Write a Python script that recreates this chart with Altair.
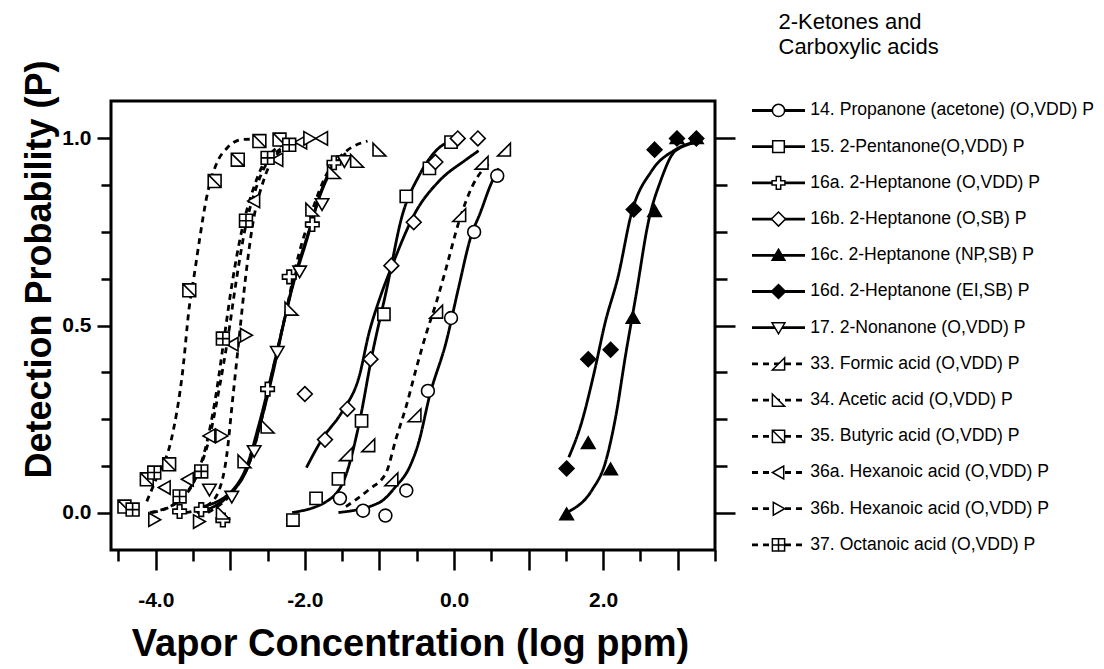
import altair as alt
import pandas as pd

FONT = "Liberation Sans, Arial, Helvetica, sans-serif"

SERIES = [
    "14. Propanone (acetone) (O,VDD) P",
    "15. 2-Pentanone(O,VDD) P",
    "16a. 2-Heptanone (O,VDD) P",
    "16b. 2-Heptanone (O,SB) P",
    "16c. 2-Heptanone (NP,SB) P",
    "16d. 2-Heptanone (EI,SB) P",
    "17. 2-Nonanone (O,VDD) P",
    "33. Formic acid (O,VDD) P",
    "34. Acetic acid (O,VDD) P",
    "35. Butyric acid (O,VDD) P",
    "36a. Hexanoic acid (O,VDD) P",
    "36b. Hexanoic acid (O,VDD) P",
    "37. Octanoic acid (O,VDD) P",
]
TITLE_TEXT = ["2-Ketones and\nCarboxylic acids"]

# ---- measured points ----
P14_X = [-1.53, -1.22, -0.92, -0.64, -0.35, -0.04, 0.27, 0.58]
P14_Y = [0.038, 0.005, -0.008, 0.059, 0.325, 0.52, 0.75, 0.90]
P15_X = [-2.16, -1.85, -1.55, -1.24, -0.94, -0.64, -0.33, -0.04]
P15_Y = [-0.02, 0.038, 0.09, 0.245, 0.53, 0.845, 0.92, 0.99]
P16A_X = [-3.68, -3.39, -3.10, -2.50, -2.21, -1.90, -1.61]
P16A_Y = [0.003, 0.008, -0.02, 0.33, 0.63, 0.77, 0.935]
P16B_X = [-2.00, -1.73, -1.43, -1.12, -0.84, -0.54, -0.25, 0.05, 0.32]
P16B_Y = [0.317, 0.195, 0.277, 0.41, 0.66, 0.776, 0.937, 1.0, 1.0]
P16C_X = [1.51, 1.80, 2.10, 2.40, 2.69, 2.99, 3.25]
P16C_Y = [-0.005, 0.185, 0.115, 0.52, 0.805, 1.0, 1.0]
P16D_X = [1.51, 1.80, 2.10, 2.41, 2.69, 2.99, 3.25]
P16D_Y = [0.118, 0.41, 0.435, 0.81, 0.97, 1.0, 1.0]
P17_X = [-3.28, -2.98, -2.68, -2.37, -2.07, -1.77, -1.47]
P17_Y = [0.062, 0.043, 0.165, 0.43, 0.645, 0.825, 0.94]
P33_X = [-1.45, -1.15, -0.84, -0.53, -0.24, 0.07, 0.37, 0.67]
P33_Y = [0.156, 0.18, 0.089, 0.26, 0.537, 0.795, 0.935, 0.97]
P34_X = [-3.10, -2.81, -2.50, -2.18, -1.90, -1.61, -1.30, -1.00]
P34_Y = [0.0, 0.137, 0.23, 0.545, 0.81, 0.91, 0.94, 0.97]
P35_X = [-4.42, -4.12, -3.82, -3.55, -3.21, -2.90, -2.61, -2.34]
P35_Y = [0.016, 0.089, 0.129, 0.594, 0.886, 0.943, 0.993, 0.997]
P36A_X = [-3.88, -3.57, -3.28, -2.97, -2.68, -2.37, -2.05, -1.77]
P36A_Y = [0.067, 0.089, 0.205, 0.45, 0.833, 0.943, 0.99, 1.0]
P36B_X = [-4.02, -3.42, -3.12, -2.79, -1.94]
P36B_Y = [-0.019, -0.024, 0.205, 0.474, 1.0]
P37_X = [-4.31, -4.02, -3.68, -3.39, -3.10, -2.79, -2.50, -2.21]
P37_Y = [0.008, 0.107, 0.043, 0.11, 0.465, 0.78, 0.948, 0.983]

# ---- fitted curves ----
C14_X = [-1.55, -1.0, -0.78, -0.6, -0.47, -0.33, -0.1, 0.06, 0.23, 0.35, 0.5, 0.6]
C14_Y = [0.0, 0.027, 0.07, 0.12, 0.19, 0.31, 0.46, 0.6, 0.74, 0.8, 0.88, 0.92]
C15_X = [-2.17, -1.67, -1.45, -1.27, -1.1, -0.9, -0.7, -0.47, -0.2, 0.0]
C15_Y = [0.0, 0.035, 0.1, 0.24, 0.42, 0.6, 0.79, 0.9, 0.975, 0.995]
C16A_X = [-3.45, -3.0, -2.75, -2.58, -2.42, -2.27, -2.15, -1.95, -1.78, -1.6]
C16A_Y = [0.0, 0.05, 0.13, 0.25, 0.38, 0.52, 0.62, 0.75, 0.86, 0.94]
C16B_X = [-1.98, -1.77, -1.5, -1.27, -1.14, -1.0, -0.83, -0.51, -0.2, 0.16, 0.33]
C16B_Y = [0.12, 0.196, 0.27, 0.365, 0.48, 0.57, 0.66, 0.805, 0.886, 0.943, 0.967]
C16C_X = [1.54, 1.85, 2.03, 2.17, 2.3, 2.44, 2.61, 2.77, 2.97, 3.28]
C16C_Y = [0.003, 0.06, 0.134, 0.258, 0.42, 0.58, 0.78, 0.886, 0.967, 0.99]
C16D_X = [1.54, 1.71, 1.87, 2.03, 2.2, 2.38, 2.65, 2.97, 3.28]
C16D_Y = [0.148, 0.24, 0.366, 0.51, 0.63, 0.8, 0.913, 0.97, 0.993]
C17_X = [-3.37, -2.97, -2.78, -2.61, -2.44, -2.28, -2.17, -1.98, -1.81, -1.63, -1.45]
C17_Y = [0.016, 0.06, 0.124, 0.24, 0.375, 0.51, 0.6, 0.725, 0.84, 0.92, 0.96]
C33_X = [-1.45, -1.14, -0.91, -0.78, -0.64, -0.5, -0.37, -0.24, -0.11, 0.07, 0.24, 0.51]
C33_Y = [0.016, 0.062, 0.107, 0.196, 0.285, 0.39, 0.48, 0.56, 0.65, 0.78, 0.87, 0.94]
C34_X = [-3.3, -2.95, -2.75, -2.58, -2.42, -2.26, -2.12, -1.93, -1.72, -1.45, -1.16]
C34_Y = [0.0, 0.06, 0.13, 0.25, 0.39, 0.53, 0.66, 0.79, 0.9, 0.965, 0.993]
C35_X = [-4.12, -3.98, -3.79, -3.64, -3.55, -3.48, -3.41, -3.32, -3.19, -3.04, -2.84, -2.65]
C35_Y = [0.03, 0.097, 0.196, 0.376, 0.55, 0.64, 0.733, 0.84, 0.93, 0.975, 0.997, 0.998]
C36A_X = [-4.05, -3.7, -3.45, -3.28, -3.15, -3.03, -2.92, -2.8, -2.65, -2.45, -2.1]
C36A_Y = [0.0, 0.03, 0.1, 0.2, 0.33, 0.47, 0.62, 0.76, 0.87, 0.95, 0.99]
C36B_X = [-3.6, -3.3, -3.15, -3.05, -2.97, -2.88, -2.8, -2.7, -2.55, -2.3, -1.95]
C36B_Y = [0.0, 0.02, 0.06, 0.15, 0.3, 0.47, 0.62, 0.77, 0.89, 0.97, 0.995]
C37_X = [-4.08, -3.7, -3.45, -3.3, -3.18, -3.08, -2.97, -2.85, -2.7, -2.5, -2.2]
C37_Y = [0.0, 0.03, 0.1, 0.2, 0.33, 0.47, 0.62, 0.75, 0.86, 0.95, 0.99]

X_TICKS = [-4.5, -4.0, -3.5, -3.0, -2.5, -2.0, -1.5, -1.0, -0.5, 0.0, 0.5, 1.0, 1.5, 2.0, 2.5, 3.0, 3.5]
Y_TICKS = [0.0, 0.125, 0.25, 0.375, 0.5, 0.625, 0.75, 0.875, 1.0]

# ---- styles ----
TRI_UP = "M0,-1L1.05,0.8L-1.05,0.8Z"
TRI_DOWN = "M-1.05,-0.8L1.05,-0.8L0,1Z"
TRI_LEFT = "M0.85,-1.05L0.85,1.05L-1,0Z"
TRI_RIGHT = "M-0.85,-1.05L-0.85,1.05L1,0Z"
DIAMOND = "M0,-1.15L1.15,0L0,1.15L-1.15,0Z"
CROSS = "M-0.36,-1.05H0.36V-0.36H1.05V0.36H0.36V1.05H-0.36V0.36H-1.05V-0.36H-0.36Z"
FORMIC = "M1,-1L1,1L-1,1Z"
ACETIC = "M-1,-1L-1,1L1,1Z"
BUTYRIC = "M-1,-1H1V1H-1Z M-1,-1L1,1"
GRID_SQ = "M-1,-1H1V1H-1Z M0,-1V1 M-1,0H1"
SQUARE = "M-0.95,-0.95H0.95V0.95H-0.95Z"

SHAPES = ["circle", SQUARE, CROSS, DIAMOND, TRI_UP, DIAMOND, TRI_DOWN,
          FORMIC, ACETIC, BUTYRIC, TRI_LEFT, TRI_RIGHT, GRID_SQ]
FILLS = ["white", "white", "white", "white", "black", "black", "white",
         "white", "white", "white", "white", "white", "white"]
DASHES = [[1, 0]] * 7 + [[6, 5]] * 6
WIDTHS = [2.8, 2.8, 1.3, 1.3, 1.3, 1.3, 2.8, 3.5, 3.5, 3.5, 3.5, 3.5, 3.5]

PX = [P14_X, P15_X, P16A_X, P16B_X, P16C_X, P16D_X, P17_X, P33_X, P34_X, P35_X, P36A_X, P36B_X, P37_X]
PY = [P14_Y, P15_Y, P16A_Y, P16B_Y, P16C_Y, P16D_Y, P17_Y, P33_Y, P34_Y, P35_Y, P36A_Y, P36B_Y, P37_Y]
CX = [C14_X, C15_X, C16A_X, C16B_X, C16C_X, C16D_X, C17_X, C33_X, C34_X, C35_X, C36A_X, C36B_X, C37_X]
CY = [C14_Y, C15_Y, C16A_Y, C16B_Y, C16C_Y, C16D_Y, C17_Y, C33_Y, C34_Y, C35_Y, C36A_Y, C36B_Y, C37_Y]

pts = pd.DataFrame([{"name": n, "x": x, "y": y}
                    for n, xs, ys in zip(SERIES, PX, PY) for x, y in zip(xs, ys)])
crv = pd.DataFrame([{"name": n, "x": x, "y": y, "k": i}
                    for n, xs, ys in zip(SERIES, CX, CY) for i, (x, y) in enumerate(zip(xs, ys))])
leg = pd.DataFrame({"name": SERIES, "idx": list(range(len(SERIES)))})
ttl = pd.DataFrame({"t": TITLE_TEXT})

shape_enc = alt.Shape("name:N", scale=alt.Scale(domain=SERIES, range=SHAPES), legend=None)
fill_enc = alt.Fill("name:N", scale=alt.Scale(domain=SERIES, range=FILLS), legend=None)
dash_enc = alt.StrokeDash("name:N", scale=alt.Scale(domain=SERIES, range=DASHES), legend=None)
width_enc = alt.StrokeWidth("name:N", scale=alt.Scale(domain=SERIES, range=WIDTHS), legend=None)

x_scale = alt.Scale(domain=[-4.6, 3.5], nice=False, zero=False)
y_scale = alt.Scale(domain=[-0.1, 1.1], nice=False, zero=False)

x_axis = alt.Axis(
    values=X_TICKS,
    labelExpr="abs(datum.value % 2) < 1e-9 ? (datum.value < 0 ? '-' : '') + format(abs(datum.value), '.1f') : ''",
    tickSize={"condition": {"test": "abs(datum.value % 1) < 1e-9", "value": 20}, "value": 11},
    tickWidth=2.5, tickColor="black", domain=False, grid=False,
    labelFontSize=21, labelFontWeight="bold", labelColor="black", labelPadding=19,
    labelOverlap=False, labelFlush=False,
    title="Vapor Concentration (log ppm)", titleFontSize=38, titleFontWeight="bold",
    titleColor="black", titleX=299, titleY=105, titleBaseline="alphabetic", titleAlign="center",
)
y_axis_left = alt.Axis(
    values=Y_TICKS,
    labelExpr="abs(datum.value % 0.5) < 1e-9 ? format(datum.value, '.1f') : ''",
    tickSize={"condition": {"test": "abs(datum.value % 0.5) < 1e-9", "value": 14}, "value": 10},
    tickWidth=2.5, tickColor="black", domain=False, grid=False,
    labelFontSize=21, labelFontWeight="bold", labelColor="black", labelPadding=6,
    labelOverlap=False, labelFlush=False,
    title="Detection Probability (P)", titleFontSize=36, titleFontWeight="bold",
    titleColor="black", titleX=-72, titleY=168, titleAngle=270,
    titleBaseline="middle", titleAlign="center",
)
y_axis_right = alt.Axis(
    values=Y_TICKS, orient="right", labels=False, title=None,
    tickSize={"condition": {"test": "abs(datum.value % 0.5) < 1e-9", "value": 20}, "value": 12},
    tickWidth=2.5, tickColor="black", domain=False, grid=False,
)

curves = alt.Chart(crv).mark_line(color="black", interpolate="monotone", strokeCap="butt").encode(
    x=alt.X("x:Q", scale=x_scale, axis=x_axis),
    y=alt.Y("y:Q", scale=y_scale, axis=y_axis_left),
    detail="name:N",
    order="k:Q",
    strokeDash=dash_enc,
    strokeWidth=width_enc,
)
points = alt.Chart(pts).mark_point(filled=True, stroke="black", strokeWidth=1.6, size=165, opacity=1).encode(
    x=alt.X("x:Q", scale=x_scale, axis=x_axis),
    y=alt.Y("y:Q", scale=y_scale, axis=y_axis_right),
    shape=shape_enc,
    fill=fill_enc,
)
main = alt.layer(curves, points).resolve_axis(y="independent")

# ---- legend panel (own scales) ----
LX = alt.Scale(domain=[-12.094, -0.698], nice=False, zero=False)
LY = alt.Scale(domain=[-0.262, 12.141], reverse=True, nice=False, zero=False)

leg_rule = alt.Chart(leg).mark_rule(color="black", strokeCap="butt").encode(
    x=alt.XDatum(0, type="quantitative", scale=LX, axis=None),
    x2=alt.X2Datum(1),
    y=alt.Y("idx:Q", scale=LY, axis=None),
    strokeDash=dash_enc,
    strokeWidth=width_enc,
)
leg_pts = alt.Chart(leg).mark_point(filled=True, stroke="black", strokeWidth=1.5, size=150, opacity=1).encode(
    x=alt.XDatum(0.5, type="quantitative", axis=None),
    y=alt.Y("idx:Q", axis=None),
    shape=shape_enc,
    fill=fill_enc,
)
leg_txt = alt.Chart(leg).mark_text(align="left", baseline="middle", font=FONT, fontSize=17.6, color="black").encode(
    x=alt.XDatum(1.1, type="quantitative", axis=None),
    y=alt.Y("idx:Q", axis=None),
    text="name:N",
)
leg_title = alt.Chart(ttl).mark_text(
    align="left", baseline="top", font=FONT, fontSize=22, color="black", lineBreak="\n", lineHeight=25
).encode(
    x=alt.XDatum(0.5, type="quantitative", axis=None),
    y=alt.YDatum(-2.72, type="quantitative", axis=None),
    text="t:N",
)
legend = alt.layer(leg_rule, leg_pts, leg_txt, leg_title)

chart = alt.layer(main, legend).resolve_scale(x="independent", y="independent").properties(
    width=604, height=449,
    autosize=alt.AutoSizeParams(type="none"),
    padding={"left": 103, "top": 93, "right": 381, "bottom": 118},
).configure_view(stroke="black", strokeWidth=3).configure_axis(
    labelFont=FONT, titleFont=FONT
)

chart.save("out.html", embed_options={"renderer": "svg", "actions": False})
